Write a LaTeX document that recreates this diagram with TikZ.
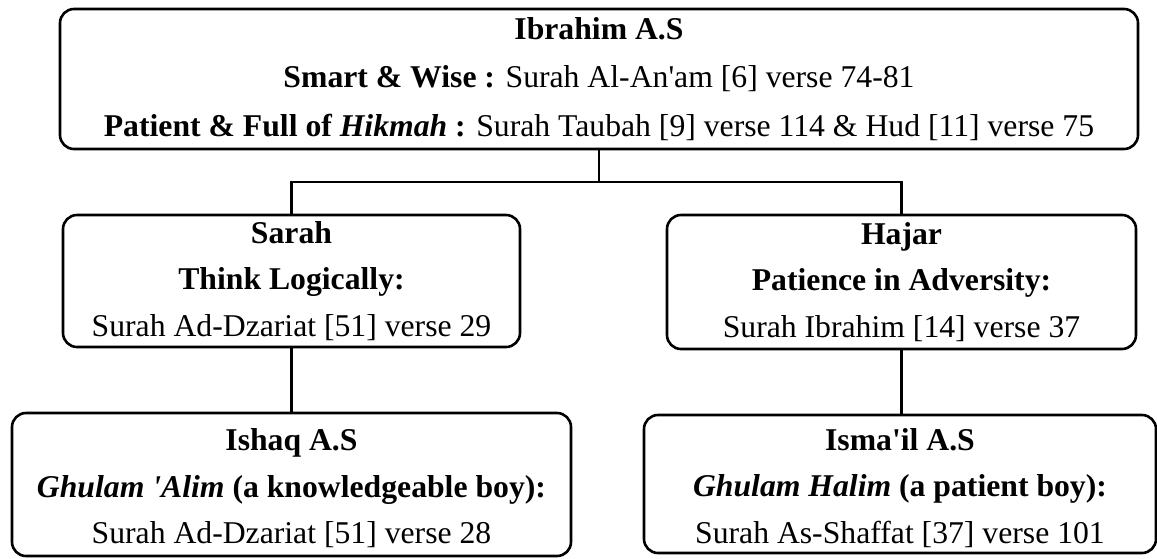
\documentclass[tikz,border=0pt]{standalone}
\usepackage{fontspec}
\setmainfont{Liberation Serif}
\usepackage{tikz}
\usetikzlibrary{calc,positioning}
\newcommand{\ap}{\textquotesingle}
\newcommand{\lowr}{\rule{0pt}{30pt}}

\begin{document}
\begin{tikzpicture}[x=1pt,y=-1pt,
  box/.style={draw,black,line width=2.6pt,rounded corners=14pt,align=center,inner sep=0pt,
    font=\fontsize{31.7}{48.5}\selectfont},
  sub/.style={box,font=\fontsize{31.7}{46.5}\selectfont},
  link/.style={draw,black,line width=2.6pt}]
\useasboundingbox (0,0) rectangle (1157,558);
\node[box,minimum width=1078pt,minimum height=140pt] (ibrahim) at (599,79)
  {\textbf{Ibrahim A.S}\\
   \textbf{Smart \& Wise :} Surah Al-An\ap am [6] verse 74-81\\
   \textbf{Patient \& Full of \textit{Hikmah} :} Surah Taubah [9] verse 114 \& Hud [11] verse 75};
\node[sub,minimum width=457pt,minimum height=132pt] (sarah) at (291.5,281)
  {\textbf{Sarah}\\ \textbf{Think Logically:}\\ Surah Ad-Dzariat [51] verse 29};
\node[sub,minimum width=469pt,minimum height=134pt] (hajar) at (901.5,282)
  {\textbf{Hajar}\\ \textbf{Patience in Adversity:}\\ Surah Ibrahim [14] verse 37};
\node[sub,minimum width=559pt,minimum height=143pt] (ishaq) at (291.5,484.5)
  {\lowr\textbf{Ishaq A.S}\\ \textbf{\textit{Ghulam \ap Alim} (a knowledgeable boy):}\\ Surah Ad-Dzariat [51] verse 28};
\node[sub,minimum width=512pt,minimum height=138pt] (ismail) at (900,484)
  {\lowr\textbf{Isma\ap il A.S}\\ \textbf{\textit{Ghulam Halim} (a patient boy):}\\ Surah As-Shaffat [37] verse 101};
\coordinate (fork) at (599,182);
\draw[link] (ibrahim.south) -- (fork);
\draw[link] (sarah.north) |- (fork) -| (hajar.north);
\draw[link] (sarah.south) -- (ishaq.north);
\draw[link] (hajar.south) -- (hajar.south |- ismail.north);
\end{tikzpicture}
\end{document}
